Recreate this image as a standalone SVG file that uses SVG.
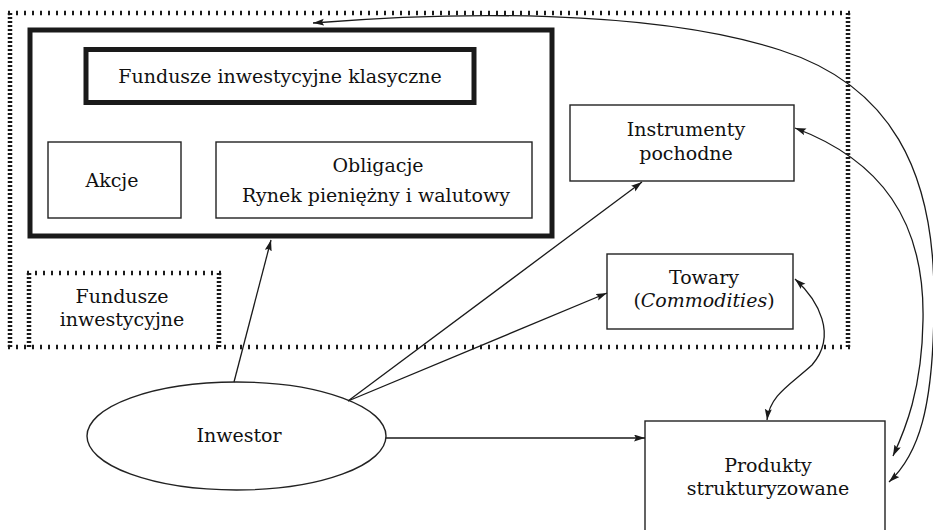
<svg xmlns="http://www.w3.org/2000/svg" width="933" height="530" viewBox="0 0 933 530">
<style>
text{font-family:"DejaVu Serif","Liberation Serif",serif;font-size:19px;fill:#111;text-anchor:middle}
.box{fill:none;stroke:#222;stroke-width:1.4}
.thick{fill:none;stroke:#1a1a1a;stroke-width:5}
.dh{fill:none;stroke:#1a1a1a;stroke-width:4.5;stroke-dasharray:2 6}
.dv{fill:none;stroke:#1a1a1a;stroke-width:4.5;stroke-dasharray:2 2}
.c{fill:none;stroke:#1a1a1a;stroke-width:1.3}
</style>
<defs>
<marker id="ah" markerUnits="userSpaceOnUse" markerWidth="12" markerHeight="8" refX="11" refY="3.5" orient="auto-start-reverse">
<path d="M0,0 L11,3.5 L0,7 L2,3.5 z" fill="#1a1a1a"/>
</marker>
</defs>
<g id="fundusze-inwestycyjne">
<line class="dh" x1="8" y1="13" x2="850" y2="13"/>
<line class="dv" x1="10" y1="13" x2="10" y2="349"/>
<line class="dv" x1="848" y1="13" x2="848" y2="349"/>
<line class="dh" x1="8" y1="347" x2="850" y2="347"/>
<line class="dh" x1="27" y1="273" x2="221" y2="273"/>
<line class="dv" x1="29" y1="273" x2="29" y2="347"/>
<line class="dv" x1="219" y1="273" x2="219" y2="347"/>
<text x="122" y="303">Fundusze</text>
<text x="122" y="326">inwestycyjne</text>
</g>
<g id="klasyczne">
<rect class="thick" x="30" y="30" width="522" height="206"/>
<rect class="thick" x="86" y="49.5" width="388" height="53"/>
<text x="280" y="83">Fundusze inwestycyjne klasyczne</text>
</g>
<g id="akcje">
<rect class="box" x="48" y="142" width="133" height="76"/>
<text x="112" y="187">Akcje</text>
</g>
<g id="obligacje">
<rect class="box" x="216" y="142" width="316" height="76"/>
<text x="378" y="172">Obligacje</text>
<text x="376" y="202">Rynek pieniężny i walutowy</text>
</g>
<g id="instrumenty">
<rect class="box" x="570" y="105" width="224" height="76"/>
<text x="686" y="136">Instrumenty</text>
<text x="686" y="160">pochodne</text>
</g>
<g id="towary">
<rect class="box" x="607" y="254" width="186" height="75"/>
<text x="704" y="284">Towary</text>
<text x="704" y="307">(<tspan font-style="italic">Commodities</tspan>)</text>
</g>
<g id="inwestor">
<ellipse class="box" cx="236.5" cy="436" rx="149.5" ry="54"/>
<text x="239" y="442">Inwestor</text>
</g>
<g id="produkty">
<rect class="box" x="645" y="421" width="240" height="130"/>
<text x="768" y="472">Produkty</text>
<text x="768" y="495">strukturyzowane</text>
</g>
<g id="connectors">
<line class="c" x1="234" y1="382" x2="271" y2="240" marker-end="url(#ah)"/>
<line class="c" x1="348" y1="401" x2="642" y2="182" marker-end="url(#ah)"/>
<line class="c" x1="348" y1="401" x2="607" y2="293" marker-end="url(#ah)"/>
<line class="c" x1="386" y1="438" x2="645" y2="438" marker-end="url(#ah)"/>
<path class="c" d="M795,279 C818,300 838,335 812,365 C790,385 770,395 767,420" marker-start="url(#ah)" marker-end="url(#ah)"/>
<path class="c" d="M795,128 C880,160 925,220 923,320 C922,390 905,430 893,456" marker-start="url(#ah)" marker-end="url(#ah)"/>
<path class="c" d="M313,23 C450,12 650,8 780,50 C890,85 935,170 934,300 C934,410 918,455 889,482" marker-start="url(#ah)" marker-end="url(#ah)"/>
</g>
</svg>
